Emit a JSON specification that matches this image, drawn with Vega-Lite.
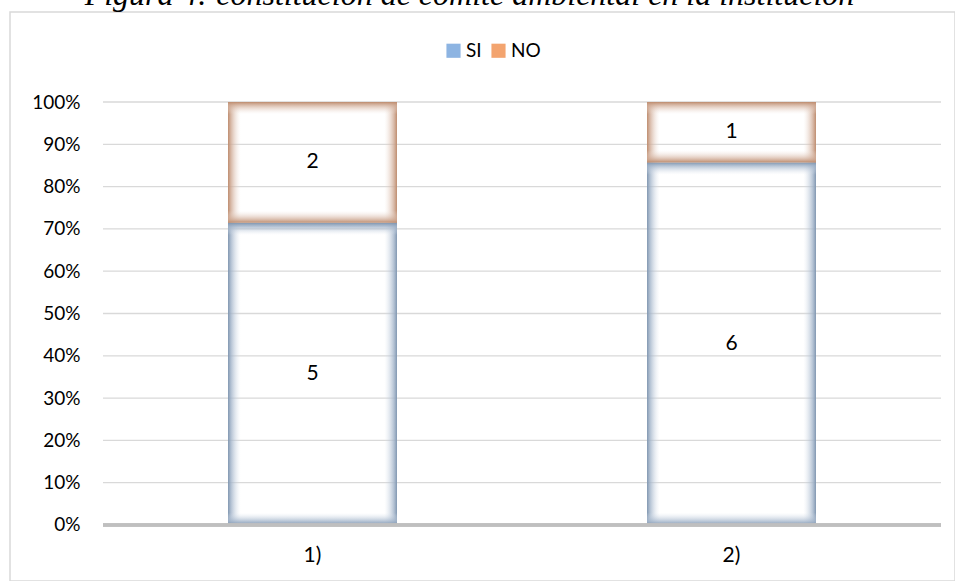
{
  "$schema": "https://vega.github.io/schema/vega-lite/v6.json",
  "autosize": {"type": "none"},
  "padding": {"left": 10, "top": 12, "right": 0, "bottom": 0},
  "width": 945,
  "height": 569,
  "background": "white",
  "config": {
    "view": {"stroke": "#d9d9d9", "strokeWidth": 1.5},
    "font": "Lato",
    "axis": {"labelFontSize": 19, "labelFont": "Lato", "labelColor": "#000000"}
  },
  "title": {
    "text": "Figura 4: constitución de comité ambiental en la institución",
    "font": "Liberation Serif",
    "fontStyle": "italic",
    "fontWeight": "normal",
    "fontSize": 32,
    "color": "#000000",
    "anchor": "middle",
    "baseline": "alphabetic",
    "offset": 0,
    "dy": 25,
    "dx": -13
  },
  "datasets": {
    "bars": [
      {"cat": "1)", "resp": "SI", "n": 5},
      {"cat": "1)", "resp": "NO", "n": 2},
      {"cat": "2)", "resp": "SI", "n": 6},
      {"cat": "2)", "resp": "NO", "n": 1}
    ],
    "grid": [
      {"g": 0.1}, {"g": 0.2}, {"g": 0.3}, {"g": 0.4}, {"g": 0.5},
      {"g": 0.6}, {"g": 0.7}, {"g": 0.8}, {"g": 0.9}, {"g": 1.0}
    ]
  },
  "resolve": {"scale": {"x": "independent"}},
  "layer": [
    {
      "data": {"name": "grid"},
      "mark": {"type": "rule", "color": "#d9d9d9", "strokeWidth": 1.3},
      "encoding": {
        "y": {
          "field": "g", "type": "quantitative",
          "scale": {"domain": [-0.13239, 1.21277], "nice": false, "zero": false},
          "axis": {
            "orient": "left", "offset": -93,
            "values": [0, 0.1, 0.2, 0.3, 0.4, 0.5, 0.6, 0.7, 0.8, 0.9, 1],
            "format": "%", "domain": false, "ticks": false, "tickSize": 0, "grid": false,
            "labelPadding": 23, "labelFontSize": 19, "labelFont": "Lato", "labelColor": "#000000",
            "title": null
          }
        },
        "x": {"datum": 0, "type": "quantitative", "scale": {"domain": [-0.11098, 1.0167], "nice": false, "zero": false}, "axis": null},
        "x2": {"datum": 1}
      }
    },
    {
      "data": {"name": "bars"},
      "transform": [
        {"stack": "n", "groupby": ["cat"], "sort": [{"field": "resp", "order": "descending"}], "offset": "normalize", "as": ["y0", "y1"]}
      ],
      "mark": {"type": "bar", "width": {"band": 0.4033}, "strokeWidth": 0},
      "encoding": {
        "x": {
          "field": "cat", "type": "nominal",
          "scale": {"type": "band", "paddingInner": 0, "paddingOuter": 0.12768, "align": 0.8692},
          "axis": {
            "orient": "bottom", "offset": -56, "domain": false, "ticks": false, "grid": false,
            "labelPadding": 19, "labelFontSize": 21, "labelFont": "Lato", "labelAngle": 0,
            "labelColor": "#000000", "title": null
          }
        },
        "y": {"field": "y0", "type": "quantitative", "scale": {"domain": [-0.13239, 1.21277], "nice": false, "zero": false}},
        "y2": {"field": "y1"},
        "fill": {
          "condition": {
            "test": "datum.resp === 'SI'",
            "value": {"gradient": "linear", "x1": 0, "y1": 0, "x2": 1, "y2": 0, "stops": [
              {"offset": 0, "color": "rgba(128,150,176,1)"},
              {"offset": 0.018, "color": "rgba(160,178,200,0.8)"},
              {"offset": 0.075, "color": "rgba(220,228,238,0)"},
              {"offset": 0.925, "color": "rgba(220,228,238,0)"},
              {"offset": 0.982, "color": "rgba(160,178,200,0.8)"},
              {"offset": 1, "color": "rgba(128,150,176,1)"}
            ]}
          },
          "value": {"gradient": "linear", "x1": 0, "y1": 0, "x2": 1, "y2": 0, "stops": [
            {"offset": 0, "color": "rgba(190,140,110,1)"},
            {"offset": 0.018, "color": "rgba(206,168,146,0.8)"},
            {"offset": 0.075, "color": "rgba(240,226,218,0)"},
            {"offset": 0.925, "color": "rgba(240,226,218,0)"},
            {"offset": 0.982, "color": "rgba(206,168,146,0.8)"},
            {"offset": 1, "color": "rgba(190,140,110,1)"}
          ]}
        }
      }
    },
    {
      "data": {"name": "bars"},
      "transform": [
        {"stack": "n", "groupby": ["cat"], "sort": [{"field": "resp", "order": "descending"}], "offset": "normalize", "as": ["y0", "y1"]}
      ],
      "mark": {"type": "bar", "width": {"band": 0.4033}, "strokeWidth": 0},
      "encoding": {
        "x": {
          "field": "cat", "type": "nominal",
          "scale": {"type": "band", "paddingInner": 0, "paddingOuter": 0.12768, "align": 0.8692},
          "axis": null
        },
        "y": {"field": "y0", "type": "quantitative", "scale": {"domain": [-0.13239, 1.21277], "nice": false, "zero": false}},
        "y2": {"field": "y1"},
        "fill": {
          "condition": [
            {
              "test": "datum.cat === '1)' && datum.resp === 'SI'",
              "value": {"gradient": "linear", "x1": 0, "y1": 0, "x2": 0, "y2": 1, "stops": [
                {"offset": 0, "color": "rgba(128,150,176,1)"},
                {"offset": 0.012, "color": "rgba(160,178,200,0.8)"},
                {"offset": 0.04, "color": "rgba(220,228,238,0)"},
                {"offset": 0.96, "color": "rgba(220,228,238,0)"},
                {"offset": 0.988, "color": "rgba(160,178,200,0.8)"},
                {"offset": 1, "color": "rgba(128,150,176,1)"}
              ]}
            },
            {
              "test": "datum.cat === '1)' && datum.resp === 'NO'",
              "value": {"gradient": "linear", "x1": 0, "y1": 0, "x2": 0, "y2": 1, "stops": [
                {"offset": 0, "color": "rgba(190,140,110,1)"},
                {"offset": 0.025, "color": "rgba(206,168,146,0.8)"},
                {"offset": 0.1, "color": "rgba(240,226,218,0)"},
                {"offset": 0.9, "color": "rgba(240,226,218,0)"},
                {"offset": 0.975, "color": "rgba(206,168,146,0.8)"},
                {"offset": 1, "color": "rgba(190,140,110,1)"}
              ]}
            },
            {
              "test": "datum.cat === '2)' && datum.resp === 'SI'",
              "value": {"gradient": "linear", "x1": 0, "y1": 0, "x2": 0, "y2": 1, "stops": [
                {"offset": 0, "color": "rgba(128,150,176,1)"},
                {"offset": 0.009, "color": "rgba(160,178,200,0.8)"},
                {"offset": 0.034, "color": "rgba(220,228,238,0)"},
                {"offset": 0.966, "color": "rgba(220,228,238,0)"},
                {"offset": 0.991, "color": "rgba(160,178,200,0.8)"},
                {"offset": 1, "color": "rgba(128,150,176,1)"}
              ]}
            }
          ],
          "value": {"gradient": "linear", "x1": 0, "y1": 0, "x2": 0, "y2": 1, "stops": [
            {"offset": 0, "color": "rgba(190,140,110,1)"},
            {"offset": 0.05, "color": "rgba(206,168,146,0.8)"},
            {"offset": 0.2, "color": "rgba(240,226,218,0)"},
            {"offset": 0.8, "color": "rgba(240,226,218,0)"},
            {"offset": 0.95, "color": "rgba(206,168,146,0.8)"},
            {"offset": 1, "color": "rgba(190,140,110,1)"}
          ]}
        }
      }
    },
    {
      "data": {"name": "grid"},
      "mark": {"type": "rule", "color": "#bfbfbf", "strokeWidth": 2.6},
      "encoding": {
        "y": {"datum": 0, "type": "quantitative", "scale": {"domain": [-0.13239, 1.21277], "nice": false, "zero": false}},
        "x": {"datum": 0, "type": "quantitative", "scale": {"domain": [-0.11098, 1.0167], "nice": false, "zero": false}, "axis": null},
        "x2": {"datum": 1}
      }
    },
    {
      "data": {"name": "bars"},
      "mark": {"type": "square", "opacity": 0},
      "encoding": {
        "color": {
          "field": "resp", "type": "nominal",
          "scale": {"domain": ["SI", "NO"], "range": ["#8db4e2", "#f3a46f"]},
          "legend": {
            "orient": "none", "legendX": 434, "legendY": 29, "direction": "horizontal",
            "title": null, "symbolType": "square", "symbolSize": 200, "symbolOpacity": 1,
            "symbolStrokeWidth": 0, "labelFontSize": 19, "labelFont": "Lato", "labelColor": "#000000",
            "columnPadding": 7, "labelOffset": 3, "padding": 0
          }
        }
      }
    },
    {
      "data": {"name": "bars"},
      "transform": [
        {"stack": "n", "groupby": ["cat"], "sort": [{"field": "resp", "order": "descending"}], "offset": "normalize", "as": ["y0", "y1"]},
        {"calculate": "(datum.y0 + datum.y1) / 2", "as": "ymid"}
      ],
      "mark": {"type": "text", "font": "Lato", "fontSize": 21, "color": "#000000", "baseline": "middle", "align": "center"},
      "encoding": {
        "x": {
          "field": "cat", "type": "nominal",
          "scale": {"type": "band", "paddingInner": 0, "paddingOuter": 0.12768, "align": 0.8692},
          "axis": null
        },
        "y": {"field": "ymid", "type": "quantitative", "scale": {"domain": [-0.13239, 1.21277], "nice": false, "zero": false}},
        "text": {"field": "n", "type": "quantitative"}
      }
    }
  ]
}
